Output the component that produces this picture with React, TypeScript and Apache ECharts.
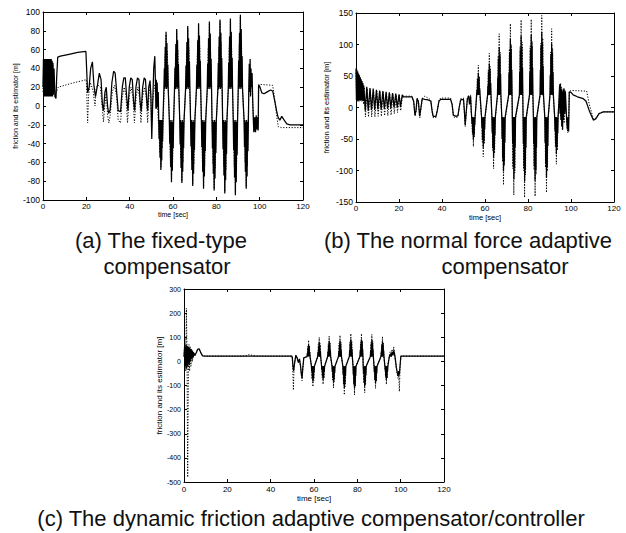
import { useEffect, useRef } from "react";
import * as echarts from "echarts";

// ---------- axis tick values ----------
const timeTicks = [0, 20, 40, 60, 80, 100, 120];
const ticksA = [-100, -80, -60, -40, -20, 0, 20, 40, 60, 80, 100];
const ticksB = [-150, -100, -50, 0, 50, 100, 150];
const ticksC = [-500, -400, -300, -200, -100, 0, 100, 200, 300];

const xName = "time [sec]";
const yName = "friction and its estimator [m]";
const captionA1 = "(a) The fixed-type";
const captionA2 = "compensator";
const captionB1 = "(b) The normal force adaptive";
const captionB2 = "compensator";
const captionC = "(c) The dynamic friction adaptive compensator/controller";

// ---------- (a) fixed-type compensator ----------
const fixedFriction = [
  [0,20],[0.2,50],[0.4,10],[0.6,50],[0.8,10],[1.0,50],[1.2,10],[1.4,50],[1.6,10],[1.8,50],[2.0,10],[2.2,50],[2.4,10],[2.6,50],[2.8,10],[3.0,50],[3.2,10],[3.4,50],[3.6,10],[3.8,50],[4.0,10],[4.2,48],[4.4,10],[4.6,46],[4.8,12],
  [5.1,40],[5.5,10],[6.0,8],[6.3,30],[6.8,52],[8,53],[12,55],[16,57],[19.8,58],[20.1,58],[20.6,14],[21.3,20],[22,40],[22.8,47],[23.5,22],[24.2,10],[25,20],[26,35],[26.8,28],[27.4,2],[27.9,-5],[28.6,15],[29.2,20],[29.8,0],[30.3,-8],[31,-4],[31.8,25],[32.6,37],[33.3,35],[34,15],[34.7,-5],[35.8,-6],[36.6,20],[37.3,30],[38,30],[38.6,10],[39.2,-5],[39.8,20],[40.5,30],[41.2,28],[41.8,5],[42.3,-5],[42.9,20],[43.6,30],[44.3,28],[44.8,5],[45.3,-6],[46,20],[46.7,30],[47.3,28],[47.9,5],[48.3,-5],[48.8,20],[49.4,27],[49.8,10],[50.2,-35],[50.6,0],[51.1,40],[51.6,53],[51.9,25],[52.1,-3],[52.3,28],[52.5,-3],[52.7,25],[52.9,0],[53.2,15],
  [53.4,-15],[53.6,-35],[53.8,-15],[54.0,-55],[54.2,-15],[54.4,-68],[54.6,-15],[54.8,-58],[55.0,-15],[55.2,-38],[55.4,-12],
  [55.8,18],[56.0,40],[56.2,18],[56.4,63],[56.6,20],[56.8,79],[57.0,18],[57.2,67],[57.4,20],[57.6,44],[57.8,18],
  [58.3,-15],[58.5,-40],[58.7,-15],[58.9,-65],[59.1,-17],[59.3,-81],[59.5,-15],[59.7,-69],[59.9,-17],[60.1,-45],[60.3,-15],
  [60.7,18],[60.9,41],[61.1,18],[61.3,66],[61.5,20],[61.7,82],[61.9,18],[62.1,70],[62.3,20],[62.5,45],[62.7,18],
  [63.1,-15],[63.3,-41],[63.5,-15],[63.7,-66],[63.9,-17],[64.1,-82],[64.3,-15],[64.5,-70],[64.7,-17],[64.9,-45],[65.1,-15],
  [65.8,18],[66.0,43],[66.2,18],[66.4,68],[66.6,20],[66.8,85],[67.0,18],[67.2,72],[67.4,20],[67.6,47],[67.8,18],
  [68.1,-15],[68.3,-43],[68.5,-15],[68.7,-68],[68.9,-17],[69.1,-85],[69.3,-15],[69.5,-72],[69.7,-17],[69.9,-47],[70.1,-15],
  [70.8,18],[71.0,44],[71.2,18],[71.4,70],[71.6,20],[71.8,88],[72.0,18],[72.2,75],[72.4,20],[72.6,48],[72.8,18],
  [73.1,-15],[73.3,-44],[73.5,-15],[73.7,-70],[73.9,-17],[74.1,-88],[74.3,-15],[74.5,-75],[74.7,-17],[74.9,-48],[75.1,-15],
  [75.8,18],[76.0,45],[76.2,18],[76.4,72],[76.6,20],[76.8,90],[77.0,18],[77.2,77],[77.4,20],[77.6,50],[77.8,18],
  [78.0,-15],[78.2,-45],[78.4,-15],[78.6,-72],[78.8,-17],[79.0,-90],[79.2,-15],[79.4,-77],[79.6,-17],[79.8,-50],[80.0,-15],
  [80.7,18],[80.9,46],[81.1,18],[81.3,74],[81.5,20],[81.7,92],[81.9,18],[82.1,78],[82.3,20],[82.5,51],[82.7,18],
  [82.9,-15],[83.1,-46],[83.3,-15],[83.5,-74],[83.7,-17],[83.9,-93],[84.1,-15],[84.3,-79],[84.5,-17],[84.7,-51],[84.9,-15],
  [85.5,18],[85.7,46],[85.9,18],[86.1,74],[86.3,20],[86.5,93],[86.7,18],[86.9,79],[87.1,20],[87.3,51],[87.5,18],
  [87.8,-15],[88.0,-47],[88.2,-15],[88.4,-76],[88.6,-17],[88.8,-95],[89.0,-15],[89.2,-81],[89.4,-17],[89.6,-52],[89.8,-15],
  [90.1,18],[90.3,48],[90.5,18],[90.7,78],[90.9,20],[91.1,97],[91.3,18],[91.5,82],[91.7,20],[91.9,53],[92.1,18],
  [92.8,-15],[93.0,-44],[93.2,-15],[93.4,-70],[93.6,-17],[93.8,-88],[94.0,-15],[94.2,-75],[94.4,-17],[94.6,-48],[94.8,-15],
  [95.0,20],[95.2,45],[95.4,15],[95.6,50],[95.8,10],[96.0,40],[96.2,20],[96.5,35],[96.8,5],[97.1,-15],[97.3,-28],[97.5,-12],[97.7,-27],[97.9,-12],[98.1,-28],[98.4,-10],[98.7,-25],[99.0,-12],[99.3,-26],[99.5,22],[100,21],[101,14],[102,13],[103.5,15],[105,17],[106,16],[107,5],[107.8,-5],[108.5,-12],[109.3,-15],[110.2,-11],[111,-14],[112.5,-19],[114,-20],[120,-20],
];
const fixedEstimate = [
  [0,15],[0.3,48],[0.5,12],[0.9,48],[1.1,12],[1.5,48],[1.7,12],[2.1,48],[2.3,12],[2.7,48],[2.9,12],[3.3,48],[3.5,12],[3.9,46],[4.1,12],[4.5,44],[4.8,14],[5.2,20],[5.6,12],[6.2,15],[7,20],[13,24],[20,28],[20.3,28],[20.6,-18],[21,10],[21.8,25],[22.6,20],[23.2,15],[24,0],[24.6,20],[25.5,22],[26.5,20],[27.3,0],[27.9,-17],[28.5,0],[29.2,15],[29.8,-10],[30.4,-18],[31,-10],[32,15],[33,22],[34,10],[34.7,-15],[35.8,-18],[36.6,10],[37.5,20],[38.3,10],[39,-18],[39.8,10],[40.6,20],[41.5,10],[42.2,-18],[43,10],[43.8,20],[44.6,8],[45.2,-18],[46,10],[46.9,20],[47.7,8],[48.3,-18],[49,15],[49.6,22],[50.1,-20],[50.6,5],[51.5,22],[52.5,20],[53.3,-20],
  [53.6,-20],[54.0,-50],[54.2,-20],[54.5,-65],[54.8,-20],[55.0,-45],[55.4,-20],
  [56.0,20],[56.4,55],[56.6,20],[56.8,76],[57.1,20],[57.4,58],[57.8,20],
  [58.4,-20],[58.8,-55],[59.0,-20],[59.3,-78],[59.6,-20],[59.8,-58],[60.2,-20],
  [60.8,20],[61.2,56],[61.4,20],[61.7,80],[62.0,20],[62.2,60],[62.6,20],
  [63.2,-20],[63.6,-56],[63.8,-20],[64.1,-80],[64.4,-20],[64.6,-60],[65.0,-20],
  [65.9,20],[66.3,58],[66.5,20],[66.8,83],[67.1,20],[67.3,62],[67.7,20],
  [68.2,-20],[68.6,-58],[68.8,-20],[69.1,-83],[69.4,-20],[69.6,-62],[70.0,-20],
  [70.9,20],[71.3,60],[71.5,20],[71.8,86],[72.1,20],[72.3,64],[72.7,20],
  [73.2,-20],[73.6,-60],[73.8,-20],[74.1,-86],[74.4,-20],[74.6,-64],[75.0,-20],
  [75.9,20],[76.3,62],[76.5,20],[76.8,88],[77.1,20],[77.3,66],[77.7,20],
  [78.1,-20],[78.5,-62],[78.7,-20],[79.0,-88],[79.3,-20],[79.5,-66],[79.9,-20],
  [80.8,20],[81.2,63],[81.4,20],[81.7,90],[82.0,20],[82.2,68],[82.6,20],
  [83.0,-20],[83.4,-64],[83.6,-20],[83.9,-91],[84.2,-20],[84.4,-68],[84.8,-20],
  [85.6,20],[86.0,64],[86.2,20],[86.5,91],[86.8,20],[87.0,68],[87.4,20],
  [87.9,-20],[88.3,-65],[88.5,-20],[88.8,-93],[89.1,-20],[89.3,-70],[89.7,-20],
  [90.2,20],[90.6,66],[90.8,20],[91.1,95],[91.4,20],[91.6,71],[92.0,20],
  [92.9,-20],[93.3,-60],[93.5,-20],[93.8,-86],[94.1,-20],[94.3,-64],[94.7,-20],
  [95.0,20],[95.4,42],[95.8,15],[96.2,35],[96.8,5],[97.2,-22],[97.6,-15],[98,-24],[98.5,-15],[99,-24],[99.4,-20],[99.6,23],[100,23],[106,22],[106.8,10],[107.8,-10],[108.6,-22],[110,-23],[120,-23],
];

// ---------- (b) normal force adaptive compensator ----------
const normalFriction = [
  [0,62],[0.2,12],[0.4,60],[0.6,12],[0.8,57],[1.0,12],[1.2,54],[1.4,12],[1.6,51],[1.8,12],[2.0,48],[2.2,12],[2.4,45],[2.6,12],[2.8,42],[3.0,12],[3.2,39],[3.4,10],
  [3.6,35],[4.3,-5],[5.0,33],[5.7,-5],[6.5,31],[7.2,-4],[8.0,30],[8.7,-4],[9.5,28],[10.2,-3],[11.0,27],[11.7,-3],[12.5,26],[13.2,-2],[14.0,25],[14.7,-2],[15.5,24],[16.2,-1],[17.0,23],[17.7,0],[18.5,22],[19.2,0],[20.0,21],[20.7,1],[21.5,20],[22.0,17],[26.0,17],
  [26.8,10],[27.4,-12],[27.9,-5],[28.4,14],[29.0,10],[29.6,-14],[30.2,0],[30.8,14],[32,13],[33.5,12],[34.8,10],[35.4,-5],[35.9,-14],[37.2,-14],[37.8,-5],[38.6,10],[39.4,13],[44,13],[44.7,5],[45.3,-12],[46.5,-14],[47.4,-13],[48,0],[48.7,12],[50,13],[50.4,-5],[50.8,-28],[51.2,-10],[51.8,14],[52.4,18],[52.8,5],[53.3,18],[53.6,-5],
  [53.8,-15],[53.95,-26],[54.1,-15],[54.25,-41],[54.45,-17],[54.6,-51],[54.75,-15],[54.95,-43],[55.1,-17],[55.25,-28],[55.4,-15],
  [56.1,20],[56.25,28],[56.4,20],[56.55,44],[56.75,22],[56.9,55],[57.05,20],[57.25,47],[57.4,22],[57.55,30],[57.7,20],
  [58.4,-15],[58.55,-32],[58.7,-15],[58.85,-51],[59.05,-17],[59.2,-64],[59.35,-15],[59.55,-54],[59.7,-17],[59.85,-35],[60.0,-15],
  [61.2,20],[61.35,35],[61.5,20],[61.65,56],[61.85,22],[62.0,70],[62.15,20],[62.35,60],[62.5,22],[62.65,39],[62.8,20],
  [63.2,-15],[63.35,-40],[63.5,-15],[63.65,-64],[63.85,-17],[64.0,-80],[64.15,-15],[64.35,-68],[64.5,-17],[64.65,-44],[64.8,-15],
  [65.8,20],[65.95,48],[66.1,20],[66.25,77],[66.45,22],[66.6,96],[66.75,20],[66.95,82],[67.1,22],[67.25,53],[67.4,20],
  [67.8,-15],[67.95,-50],[68.1,-15],[68.25,-81],[68.45,-17],[68.6,-101],[68.75,-15],[68.95,-86],[69.1,-17],[69.25,-56],[69.4,-15],
  [71.0,20],[71.15,55],[71.3,20],[71.45,87],[71.65,22],[71.8,109],[71.95,20],[72.15,93],[72.3,22],[72.45,60],[72.6,20],
  [72.7,-15],[72.85,-57],[73.0,-15],[73.2,-91],[73.3,-17],[73.45,-114],[73.6,-15],[73.75,-97],[73.9,-17],[74.05,-63],[74.2,-15],
  [76.0,20],[76.15,57],[76.3,20],[76.45,91],[76.65,22],[76.8,114],[76.95,20],[77.15,97],[77.3,22],[77.45,63],[77.6,20],
  [77.7,-15],[77.85,-58],[78.0,-15],[78.15,-94],[78.3,-17],[78.45,-117],[78.6,-15],[78.75,-99],[78.9,-17],[79.05,-64],[79.2,-15],
  [80.7,20],[80.85,57],[81.0,20],[81.15,92],[81.35,22],[81.5,115],[81.65,20],[81.85,98],[82.0,22],[82.15,63],[82.3,20],
  [82.5,-15],[82.65,-58],[82.8,-15],[82.95,-93],[83.15,-17],[83.3,-116],[83.45,-15],[83.65,-99],[83.8,-17],[83.95,-64],[84.1,-15],
  [85.6,20],[85.75,60],[85.9,20],[86.05,96],[86.25,22],[86.4,120],[86.55,20],[86.75,102],[86.9,22],[87.05,66],[87.2,20],
  [87.8,-15],[87.95,-56],[88.1,-15],[88.25,-89],[88.45,-17],[88.6,-111],[88.75,-15],[88.95,-94],[89.1,-17],[89.25,-61],[89.4,-15],
  [90.2,20],[90.35,51],[90.5,20],[90.65,82],[90.85,22],[91.0,102],[91.15,20],[91.35,87],[91.5,22],[91.65,56],[91.8,20],
  [92.4,-15],[92.55,-37],[92.7,-15],[92.85,-59],[93.05,-17],[93.2,-74],[93.35,-15],[93.55,-63],[93.7,-17],[93.85,-41],[94.0,-15],
  [94.4,10],[94.7,35],[94.9,-10],[95.1,38],[95.3,-20],[95.5,30],[95.7,-30],[95.9,25],[96.1,-35],[96.3,28],[96.5,-20],[96.8,30],[97.1,-10],[97.4,25],[97.7,0],[98.0,-20],[98.3,-35],[98.6,-15],[98.9,-38],[99.2,25],[100,24],[101,20],[103,17],[105.7,14],[107,10],[108.5,-5],[110.4,-20],[111.5,-18],[113,-10],[115,-7],[120,-7],
];
const normalEstimate = [
  [0,55],[0.3,10],[0.5,52],[0.7,10],[0.9,50],[1.1,10],[1.3,48],[1.5,10],[1.7,45],[1.9,10],[2.1,43],[2.3,10],[2.5,40],[2.7,10],[2.9,38],[3.1,10],[3.3,36],[3.5,5],
  [3.8,32],[4.4,-15],[5.2,30],[5.8,-15],[6.7,28],[7.3,-15],[8.2,27],[8.8,-15],[9.7,26],[10.3,-14],[11.2,25],[11.8,-14],[12.7,24],[13.3,-13],[14.2,23],[14.8,-13],[15.7,22],[16.3,-12],[17.2,21],[17.8,-10],[18.7,20],[19.3,-8],[20.2,19],[20.8,-5],[21.6,18],[22.0,18],[26.0,18],
  [27,8],[27.5,-14],[28,-5],[28.5,15],[29.1,8],[29.7,-16],[30.3,0],[30.9,15],[32,18],[33.5,15],[34.8,12],[35.4,-8],[35.9,-16],[37.2,-16],[37.8,-5],[38.6,12],[39.4,15],[44,15],[44.7,5],[45.3,-15],[46.5,-16],[47.4,-15],[48,0],[48.7,14],[50,15],[50.4,-8],[50.8,-30],[51.2,-12],[51.8,15],[52.4,20],[52.8,8],[53.3,20],[53.6,-8],
  [53.9,-20],[54.15,-43],[54.35,-20],[54.6,-62],[54.85,-20],[55.05,-47],[55.3,-20],
  [56.2,20],[56.45,47],[56.65,20],[56.9,67],[57.15,20],[57.35,50],[57.6,20],
  [58.5,-20],[58.75,-55],[58.95,-20],[59.2,-78],[59.45,-20],[59.65,-58],[59.9,-20],
  [61.3,20],[61.55,60],[61.75,20],[62.0,86],[62.25,20],[62.45,65],[62.7,20],
  [63.3,-20],[63.55,-68],[63.75,-20],[64.0,-97],[64.25,-20],[64.45,-73],[64.7,-20],
  [65.9,20],[66.15,82],[66.35,20],[66.6,117],[66.85,20],[67.05,88],[67.3,20],
  [67.9,-20],[68.15,-86],[68.35,-20],[68.6,-123],[68.85,-20],[69.05,-92],[69.3,-20],
  [71.1,20],[71.35,93],[71.55,20],[71.8,133],[72.05,20],[72.25,100],[72.5,20],
  [72.75,-20],[72.95,-97],[73.15,-20],[73.4,-139],[73.65,-20],[73.85,-104],[74.1,-20],
  [76.1,20],[76.35,97],[76.55,20],[76.8,139],[77.05,20],[77.25,104],[77.5,20],
  [77.75,-20],[77.95,-100],[78.15,-20],[78.4,-143],[78.65,-20],[78.85,-107],[79.1,-20],
  [80.8,20],[81.05,98],[81.25,20],[81.5,140],[81.75,20],[81.95,105],[82.2,20],
  [82.6,-20],[82.85,-99],[83.05,-20],[83.3,-141],[83.55,-20],[83.75,-106],[84.0,-20],
  [85.7,20],[85.95,102],[86.15,20],[86.4,146],[86.65,20],[86.85,110],[87.1,20],
  [87.9,-20],[88.15,-95],[88.35,-20],[88.6,-135],[88.85,-20],[89.05,-101],[89.3,-20],
  [90.3,20],[90.55,88],[90.75,20],[91.0,125],[91.25,20],[91.45,94],[91.7,20],
  [92.5,-20],[92.75,-63],[92.95,-20],[93.2,-90],[93.45,-20],[93.65,-68],[93.9,-20],
  [94.4,12],[94.8,38],[95.2,-15],[95.6,32],[96,-36],[96.4,30],[96.8,-25],[97.2,28],[97.7,-5],[98.1,-25],[98.5,-40],[98.9,-20],[99.2,25],[100,27],[107.3,26],[108.5,5],[110.4,-18],[111.5,-17],[113,-9],[115,-7],[120,-7],
];

// ---------- (c) dynamic friction adaptive compensator/controller ----------
const dynamicFriction = [
  [0,20],[0.3,60],[0.6,-20],[0.9,70],[1.2,-30],[1.5,65],[1.8,-20],[2.1,60],[2.4,-10],[2.7,55],[3.0,0],[3.3,50],[3.6,10],[3.9,45],[4.2,15],[4.6,35],[5.0,25],[5.6,35],[6.3,50],[7.0,52],[7.8,35],[8.6,23],[10,22],[30,22],[49.8,22],
  [50.0,15],[50.3,-20],[50.6,-40],[51.0,-10],[51.6,25],[52.2,15],[52.8,-5],[53.3,10],[53.8,-20],[54.2,-55],[54.5,-70],[54.8,-30],[55.3,15],
  [56.8,20],[56.95,35],[57.1,20],[57.25,56],[57.35,22],[57.5,70],[57.65,20],[57.8,60],[57.9,22],[58.05,39],[58.2,20],
  [58.8,-20],[58.95,-42],[59.1,-20],[59.25,-67],[59.35,-22],[59.5,-84],[59.65,-20],[59.8,-71],[59.9,-22],[60.05,-46],[60.2,-20],
  [61.7,20],[61.85,40],[62.0,20],[62.15,64],[62.25,22],[62.4,80],[62.55,20],[62.7,68],[62.8,22],[62.95,44],[63.1,20],
  [63.5,-20],[63.65,-38],[63.8,-20],[63.95,-61],[64.05,-22],[64.2,-76],[64.35,-20],[64.5,-65],[64.6,-22],[64.75,-42],[64.9,-20],
  [66.3,20],[66.45,42],[66.6,20],[66.75,67],[66.85,22],[67.0,84],[67.15,20],[67.3,71],[67.4,22],[67.55,46],[67.7,20],
  [68.3,-20],[68.45,-44],[68.6,-20],[68.75,-70],[68.85,-22],[69.0,-88],[69.15,-20],[69.3,-75],[69.4,-22],[69.55,-48],[69.7,-20],
  [71.3,20],[71.45,43],[71.6,20],[71.75,69],[71.85,22],[72.0,86],[72.15,20],[72.3,73],[72.4,22],[72.55,47],[72.7,20],
  [73.3,-20],[73.45,-55],[73.6,-20],[73.75,-89],[73.85,-22],[74.0,-111],[74.15,-20],[74.3,-94],[74.4,-22],[74.55,-61],[74.7,-20],
  [76.3,20],[76.45,46],[76.6,20],[76.75,74],[76.85,22],[77.0,92],[77.15,20],[77.3,78],[77.4,22],[77.55,51],[77.7,20],
  [78.0,-20],[78.15,-55],[78.3,-20],[78.45,-89],[78.55,-22],[78.7,-111],[78.85,-20],[79.0,-94],[79.1,-22],[79.25,-61],[79.4,-20],
  [81.2,20],[81.35,46],[81.5,20],[81.65,74],[81.75,22],[81.9,92],[82.05,20],[82.2,78],[82.3,22],[82.45,51],[82.6,20],
  [82.7,-20],[82.85,-52],[83.0,-20],[83.15,-83],[83.25,-22],[83.4,-104],[83.55,-20],[83.7,-88],[83.8,-22],[83.95,-57],[84.1,-20],
  [86.0,20],[86.15,45],[86.3,20],[86.45,72],[86.55,22],[86.7,90],[86.85,20],[87.0,77],[87.1,22],[87.25,50],[87.4,20],
  [87.7,-20],[87.85,-45],[88.0,-20],[88.15,-72],[88.25,-22],[88.4,-90],[88.55,-20],[88.7,-77],[88.8,-22],[88.95,-50],[89.1,-20],
  [90.9,20],[91.05,41],[91.2,20],[91.35,66],[91.45,22],[91.6,82],[91.75,20],[91.9,70],[92.0,22],[92.15,45],[92.3,20],
  [92.7,-20],[92.85,-38],[93.0,-20],[93.15,-61],[93.25,-22],[93.4,-76],[93.55,-20],[93.7,-65],[93.8,-22],[93.95,-42],[94.1,-20],
  [94.4,0],[94.8,20],[95.2,30],[95.6,20],[96.0,38],[96.4,25],[96.8,45],[97.2,30],[97.6,5],[98.0,-25],[98.4,-45],[98.8,-60],[99.1,-40],[99.4,-55],[99.7,-20],[100.1,22],[120,22],
];
const dynamicEstimate = [
  [0,20],[0.4,100],[0.8,-40],[1.1,220],[1.4,30],[1.7,-480],[2.0,-60],[2.3,70],[2.6,-40],[2.9,60],[3.2,-20],[3.5,50],[3.9,0],[4.3,40],[4.8,20],[5.5,32],[6.3,48],[7.0,50],[7.8,33],[8.6,22],[10,22],[28,22],[30,28],[32,24],[34,22],[49.8,22],
  [50.0,10],[50.3,-60],[50.5,-119],[50.8,-20],[51.6,25],[52.2,15],[52.8,-5],[53.3,10],[53.8,-25],[54.2,-60],[54.5,-80],[54.8,-35],[55.3,15],
  [56.9,20],[57.1,62],[57.3,20],[57.5,88],[57.7,20],[57.9,66],[58.1,20],
  [58.9,-20],[59.1,-74],[59.3,-20],[59.5,-105],[59.7,-20],[59.9,-79],[60.1,-20],
  [61.8,20],[62.0,70],[62.2,20],[62.4,100],[62.6,20],[62.8,75],[63.0,20],
  [63.6,-20],[63.8,-67],[64.0,-20],[64.2,-95],[64.4,-20],[64.6,-71],[64.8,-20],
  [66.4,20],[66.6,74],[66.8,20],[67.0,105],[67.2,20],[67.4,79],[67.6,20],
  [68.4,-20],[68.6,-77],[68.8,-20],[69.0,-110],[69.2,-20],[69.4,-83],[69.6,-20],
  [71.4,20],[71.6,76],[71.8,20],[72.0,108],[72.2,20],[72.4,81],[72.6,20],
  [73.4,-20],[73.6,-97],[73.8,-20],[74.0,-139],[74.2,-20],[74.4,-104],[74.6,-20],
  [76.4,20],[76.6,81],[76.8,20],[77.0,115],[77.2,20],[77.4,86],[77.6,20],
  [78.1,-20],[78.3,-97],[78.5,-20],[78.7,-139],[78.9,-20],[79.1,-104],[79.3,-20],
  [81.3,20],[81.5,81],[81.7,20],[81.9,115],[82.1,20],[82.3,86],[82.5,20],
  [82.8,-20],[83.0,-91],[83.2,-20],[83.4,-130],[83.6,-20],[83.8,-98],[84.0,-20],
  [86.1,20],[86.3,78],[86.5,20],[86.7,112],[86.9,20],[87.1,84],[87.3,20],
  [87.8,-20],[88.0,-78],[88.2,-20],[88.4,-112],[88.6,-20],[88.8,-84],[89.0,-20],
  [91.0,20],[91.2,71],[91.4,20],[91.6,102],[91.8,20],[92.0,77],[92.2,20],
  [92.8,-20],[93.0,-67],[93.2,-20],[93.4,-95],[93.6,-20],[93.8,-71],[94.0,-20],
  [94.4,0],[94.8,25],[95.2,40],[95.6,20],[96.0,50],[96.4,25],[96.8,60],[97.2,30],[97.6,0],[98.0,-30],[98.4,-50],[98.8,-70],[99.1,-50],[99.4,-125],[99.7,-30],[100.1,22],[120,22],
];

const FONT = "'Liberation Sans', Arial, sans-serif";

type PanelCfg = {
  grid: { left: number; top: number; width: number; height: number };
  yTicks: number[];
  xFont: number;
  yFont: number;
  nameFont: number;
  yNameGap: number;
  xNameGap: number;
  xLabelMargin: number;
};

const panels: PanelCfg[] = [
  { grid: { left: 43, top: 12, width: 260, height: 188 }, yTicks: ticksA, xFont: 8, yFont: 8.5, nameFont: 7, yNameGap: 24, xNameGap: 11, xLabelMargin: 2 },
  { grid: { left: 356, top: 13, width: 258, height: 189 }, yTicks: ticksB, xFont: 8, yFont: 8.5, nameFont: 7.5, yNameGap: 26, xNameGap: 11, xLabelMargin: 2 },
  { grid: { left: 184, top: 289, width: 260, height: 193 }, yTicks: ticksC, xFont: 8, yFont: 7, nameFont: 8, yNameGap: 16, xNameGap: 12, xLabelMargin: 3 },
];

function buildOption() {
  const grids: any[] = [];
  const xAxes: any[] = [];
  const yAxes: any[] = [];
  const axisLine = { show: true, onZero: false, lineStyle: { color: "#000", width: 1 } };
  const tick = { show: true, inside: true, length: 3, lineStyle: { color: "#000", width: 1 } };
  panels.forEach((p, i) => {
    grids.push({ ...p.grid, containLabel: false, show: false });
    const xmin = timeTicks[0];
    const xmax = timeTicks[timeTicks.length - 1];
    const xint = timeTicks[1] - timeTicks[0];
    const ymin = p.yTicks[0];
    const ymax = p.yTicks[p.yTicks.length - 1];
    const yint = p.yTicks[1] - p.yTicks[0];
    xAxes.push({
      type: "value", gridIndex: i, min: xmin, max: xmax, interval: xint, position: "bottom",
      axisLine, axisTick: tick, splitLine: { show: false },
      axisLabel: { color: "#000", fontSize: p.xFont, fontFamily: FONT, margin: p.xLabelMargin, showMinLabel: true, showMaxLabel: true },
      name: xName, nameLocation: "middle", nameGap: p.xNameGap,
      nameTextStyle: { color: "#000", fontSize: p.nameFont, fontFamily: FONT },
    });
    xAxes.push({
      type: "value", gridIndex: i, min: xmin, max: xmax, interval: xint, position: "top",
      axisLine, axisTick: tick, splitLine: { show: false }, axisLabel: { show: false },
    });
    yAxes.push({
      type: "value", gridIndex: i, min: ymin, max: ymax, interval: yint, position: "left",
      axisLine, axisTick: tick, splitLine: { show: false },
      axisLabel: { color: "#000", fontSize: p.yFont, fontFamily: FONT, margin: 3, showMinLabel: true, showMaxLabel: true },
      name: yName, nameLocation: "middle", nameRotate: 90, nameGap: p.yNameGap,
      nameTextStyle: { color: "#000", fontSize: p.nameFont, fontFamily: FONT },
    });
    yAxes.push({
      type: "value", gridIndex: i, min: ymin, max: ymax, interval: yint, position: "right",
      axisLine, axisTick: tick, splitLine: { show: false }, axisLabel: { show: false },
    });
  });

  const pairs = [
    [fixedFriction, fixedEstimate],
    [normalFriction, normalEstimate],
    [dynamicFriction, dynamicEstimate],
  ];
  const series: any[] = [];
  pairs.forEach(([fr, est], i) => {
    series.push({
      type: "line", name: "estimator", xAxisIndex: i * 2, yAxisIndex: i * 2, data: est,
      showSymbol: false, symbol: "none", silent: true, z: 2,
      lineStyle: { color: "#000", width: 1, type: [1.2, 1.6] },
    });
    series.push({
      type: "line", name: "friction", xAxisIndex: i * 2, yAxisIndex: i * 2, data: fr,
      showSymbol: false, symbol: "none", silent: true, z: 3,
      lineStyle: { color: "#000", width: 1.25 },
    });
  });

  const capStyle = (text: string, x: number, y: number) => ({
    type: "text", x, y,
    style: { text, fill: "#111", font: `22px ${FONT}`, textAlign: "center", textVerticalAlign: "middle" },
  });

  return {
    animation: false,
    backgroundColor: "#fff",
    grid: grids,
    xAxis: xAxes,
    yAxis: yAxes,
    series,
    graphic: [
      capStyle(captionA1, 161, 240),
      capStyle(captionA2, 167, 266),
      capStyle(captionB1, 468, 240),
      capStyle(captionB2, 505, 266),
      capStyle(captionC, 311, 518),
    ],
  };
}

export default function App() {
  const ref = useRef<HTMLDivElement>(null);
  useEffect(() => {
    if (!ref.current) return;
    const chart = echarts.init(ref.current, undefined, { renderer: "svg" });
    chart.setOption(buildOption() as any);
    return () => chart.dispose();
  }, []);
  return (
    <div
      ref={ref}
      style={{ position: "absolute", left: 0, top: 0, width: 626, height: 533, background: "#fff" }}
    />
  );
}
